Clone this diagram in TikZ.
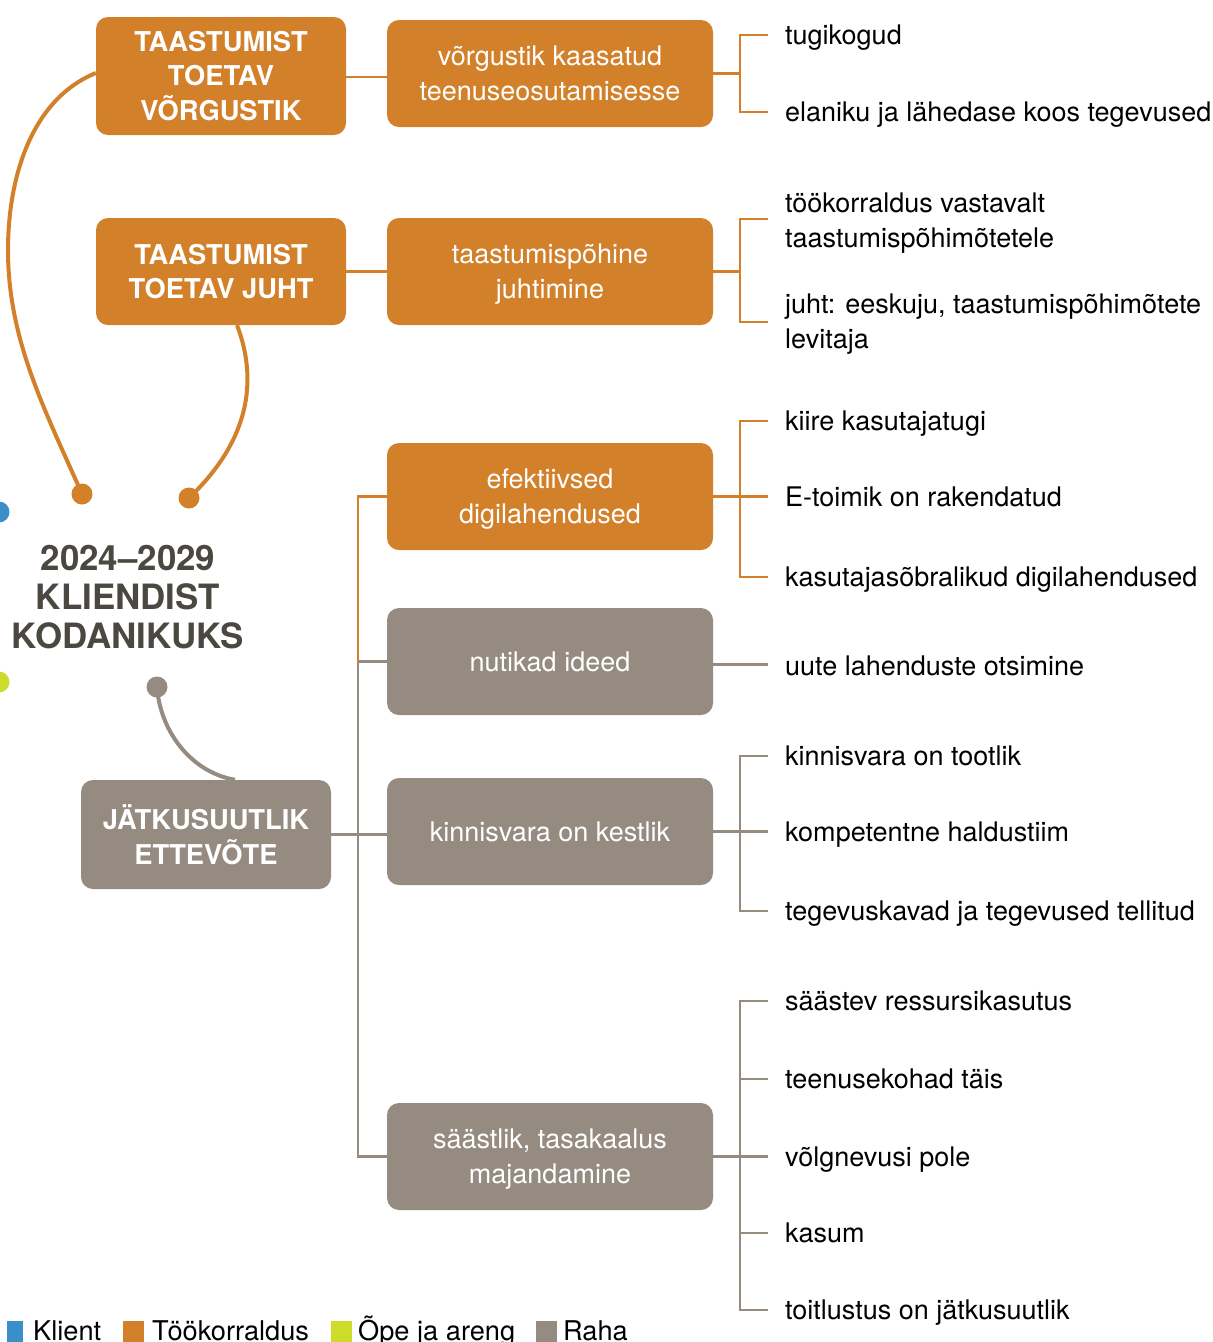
\documentclass[tikz,border=0pt]{standalone}
\usepackage{fontspec}
\setmainfont{TeX Gyre Heros}
\definecolor{org}{HTML}{D2802A}
\definecolor{gry}{HTML}{958B80}
\definecolor{blu}{HTML}{3A8FC8}
\definecolor{grn}{HTML}{CDDC2A}
\definecolor{dark}{HTML}{4B4841}
\newcommand\firstln{\rule{0pt}{25pt}}
\begin{document}
\begin{tikzpicture}[x=1pt,y=-1pt,
  mybox/.style={rounded corners=12pt, minimum width=326pt, minimum height=107pt, text=white, align=center, font=\fontsize{27}{35}\selectfont, inner sep=0pt},
  obox/.style={mybox, fill=org},
  gbox/.style={mybox, fill=gry},
  capbox/.style={mybox, minimum width=250pt, font=\bfseries\fontsize{27.3}{34.5}\selectfont},
  leaf/.style={anchor=west, inner sep=0pt, font=\fontsize{27}{35}\selectfont, text height=25.5pt, text depth=6pt},
  leaftwo/.style={anchor=west, inner sep=0pt, align=left, font=\fontsize{27}{35}\selectfont},
  oline/.style={draw=org, line width=2.2pt},
  gline/.style={draw=gry, line width=2.2pt},
  ocurve/.style={draw=org, line width=4pt},
  gcurve/.style={draw=gry, line width=4pt},
  dotnode/.style={circle, inner sep=0pt, minimum size=21pt},
  sqnode/.style={inner sep=0pt, minimum width=21pt, minimum height=21pt, anchor=south west},
  legtext/.style={anchor=base west, inner sep=0pt, font=\fontsize{27.2}{30}\selectfont}
]
\useasboundingbox (0,0) rectangle (1213,1342);

% main boxes
\node[capbox, fill=org, minimum height=118pt] (A) at (221,76) {TAASTUMIST\\TOETAV\\VÕRGUSTIK};
\node[capbox, fill=org] (B) at (221,271.5) {TAASTUMIST\\TOETAV JUHT};
\node[capbox, fill=gry, minimum height=109pt] (I) at (206,834.5) {JÄTKUSUUTLIK\\ETTEVÕTE};

\node[obox] (C) at (550,73.5) {võrgustik kaasatud\\teenuseosutamisesse};
\node[obox] (D) at (550,271.5) {\firstln taastumispõhine\\juhtimine};
\node[obox] (E) at (550,496.5) {\firstln efektiivsed\\digilahendused};
\node[gbox] (F) at (550,661.5) {nutikad ideed};
\node[gbox] (G) at (550,831.5) {kinnisvara on kestlik};
\node[gbox] (H) at (550,1156.5) {\firstln säästlik, tasakaalus\\majandamine};

% centre text
\node[text=dark, align=center, font=\bfseries\fontsize{34.9}{39}\selectfont, inner sep=0pt] (T) at (128,597) {2024–2029\\KLIENDIST\\KODANIKUKS};

% dots
\node[dotnode, fill=org] (d1) at (82,494) {};
\node[dotnode, fill=org] (d2) at (189,498) {};
\node[dotnode, fill=gry] (d3) at (157,687) {};
\node[dotnode, fill=blu] (db) at (-1,512) {};
\node[dotnode, fill=grn] (dg) at (-1,682) {};

% curves
\draw[ocurve] ([yshift=3pt]A.west) .. controls (30,100) and (8,180) .. (8,250) .. controls (8,340) and (45,410) .. (d1.center);
\draw[ocurve] ([xshift=16pt]B.south) .. controls (258,380) and (250,440) .. (d2.center);
\draw[gcurve] (d3.center) .. controls (160,730) and (190,772) .. ([xshift=29pt]I.north);

% leaves
\node[leaf] (c1) at (785,35) {tugikogud};
\node[leaf] (c2) at (785,112) {elaniku ja lähedase koos tegevused};
\node[leaftwo] (e1) at (785,223) {töökorraldus vastavalt\\taastumispõhimõtetele};
\node[leaftwo] (e2) at (785,324) {juht: eeskuju, taastumispõhimõtete\\levitaja};
\node[leaf] (k1) at (785,421) {kiire kasutajatugi};
\node[leaf] (k2) at (785,497) {E-toimik on rakendatud};
\node[leaf] (k3) at (785,577) {kasutajasõbralikud digilahendused};
\node[leaf] (n1) at (785,666) {uute lahenduste otsimine};
\node[leaf] (g1) at (785,756) {kinnisvara on tootlik};
\node[leaf] (g2) at (785,832) {kompetentne haldustiim};
\node[leaf] (g3) at (785,911) {tegevuskavad ja tegevused tellitud};
\node[leaf] (h1) at (785,1001) {säästev ressursikasutus};
\node[leaf] (h2) at (785,1079) {teenusekohad täis};
\node[leaf] (h3) at (785,1156.5) {võlgnevusi pole};
\node[leaf] (h4) at (785,1233) {kasum};
\node[leaf] (h5) at (785,1310) {toitlustus on jätkusuutlik};

% bracket coordinates
\coordinate (bx) at (740,0);
\coordinate (tk) at (768,0);
\coordinate (tx) at (358,0);

% box to box
\draw[oline] ([yshift=-1pt]A.east) -- ([yshift=-1pt]A.east -| C.west);
\draw[oline] (B.east) -- (B.east -| D.west);

% bracket C
\draw[oline] (C.east) -- (C.east -| bx);
\draw[oline] (c1.west -| tk) -| (C.east -| bx) |- (c2.west -| tk);
% bracket D
\draw[oline] (D.east) -- (D.east -| bx);
\draw[oline] ([yshift=4pt]e1.west -| tk) -| (D.east -| bx) |- ([yshift=2pt]e2.west -| tk);
% bracket E
\draw[oline] (E.east) -- (E.east -| tk);
\draw[oline] (k1.west -| tk) -| (E.east -| bx) |- (k3.west -| tk);
% F
\draw[gline] ([yshift=-3pt]F.east) -- ([yshift=-3pt]F.east -| tk);
% bracket G
\draw[gline] (G.east) -- (G.east -| tk);
\draw[gline] (g1.west -| tk) -| (G.east -| bx) |- (g3.west -| tk);
% bracket H
\draw[gline] (h1.west -| tk) -| (H.east -| bx) |- (h5.west -| tk);
\draw[gline] (H.east) -- (H.east -| tk);
\draw[gline] (h2.west -| tk) -- (h2.west -| bx);
\draw[gline] (h4.west -| tk) -- (h4.west -| bx);

% trunk
\draw[gline] (F.west -| tx) -- (H.west -| tx) -- (H.west);
\draw[gline] (F.west) -- (F.west -| tx);
\draw[gline] (I.east) -- (I.east -| G.west);
\draw[oline] (E.west) -- (E.west -| tx) -- (F.west -| tx);

% legend
\node[sqnode, fill=blu, minimum width=16pt] (s1) at (7,1342) {};
\node[legtext] (l1) at (33,1340) {Klient};
\node[sqnode, fill=org] (s2) at (123,1342) {};
\node[legtext] (l2) at (152,1340) {Töökorraldus};
\node[sqnode, fill=grn] (s3) at (331,1342) {};
\node[legtext] (l3) at (358,1340) {Õpe ja areng};
\node[sqnode, fill=gry] (s4) at (536,1342) {};
\node[legtext] (l4) at (563,1340) {Raha};
\end{tikzpicture}
\end{document}
